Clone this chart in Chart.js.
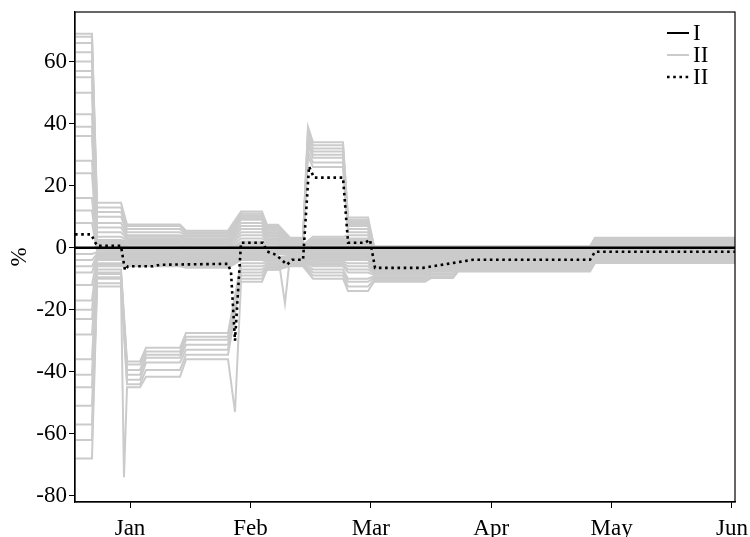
<!DOCTYPE html>
<html>
<head>
<meta charset="utf-8">
<script src="https://cdn.jsdelivr.net/npm/chart.js@4.4.1/dist/chart.umd.min.js"></script>
<style>
  html, body { margin: 0; padding: 0; background: #fff; }
</style>
</head>
<body>
<canvas id="chart" width="750" height="537"></canvas>
<script>
// x is measured in months: 1 = Jan ... 6 = Jun
const monthTicks = [1, 2, 3, 4, 5, 6];
const monthLabels = ['Jan', 'Feb', 'Mar', 'Apr', 'May', 'Jun'];
const yTicks = [-80, -60, -40, -20, 0, 20, 40, 60];

// flat stretches of the grey runs (start / end, in months)
const phaseStart = [0.543, 0.726, 0.975, 1.133, 1.465, 1.922, 2.138, 2.329, 2.520, 2.811, 3.027, 3.500, 3.724, 4.862];
const phaseEnd   = [0.684, 0.925, 1.083, 1.415, 1.814, 2.096, 2.229, 2.437, 2.769, 2.977, 3.450, 3.683, 4.821, 6.025];

// level of every grey run (32 runs) in each stretch
const phaseA  = [69, 68, 66, 63, 60, 57, 55, 50, 43, 39, 36, 28, 24, 16, 12, 8, -2, -4, -6, -8, -12, -17, -20, -23, -28, -36, -41, -45, -51, -57, -62, -68];
const phaseB  = [14.5, 13, 11.5, 10, 8, 6.5, 5, 3.5, 2.5, 2, 1.5, 1, 0.5, 0, -0.5, -1, -1.5, -2, -2.5, -3, -3.5, -4, -5, -5.5, -6, -7, -8, -8.5, -9.5, -10, -11.5, -12.5];
const phaseC1 = [7.5, 7, 6, 5, 4, 3.5, 3, 2.5, 2, 1.5, 1, 0.5, 0, -0.5, -1, -1.5, -2, -2.5, -3, -3.5, -4, -4.5, -5, -5.5, -6, -36.7, -37.7, -39.4, -41, -42.6, -44, -45];
const phaseC2 = [7.5, 7, 6, 5, 4, 3.5, 3, 2.5, 2, 1.5, 1, 0.5, 0, -0.5, -1, -1.5, -2, -2.5, -3, -3.5, -4, -4.5, -5, -5.5, -6, -32.3, -33.5, -34.5, -35.5, -37, -39.4, -41.6];
const phaseC3 = [5.5, 5, 4.5, 4, 3.5, 3, 2.5, 2, 1.5, 1, 0.5, 0, -0.5, -1, -1.5, -2, -2.5, -3, -3.5, -4, -4.5, -5, -5.5, -6, -6.5, -27.5, -28.7, -29.7, -31.3, -32.9, -34.5, -36];
const phaseD  = [11.7, 11, 10.5, 10, 9.5, 9, 8, 7, 6, 5, 4, 3, 2, 1.5, 1, 0.5, 0, -0.5, -1, -1.5, -2, -2.5, -3, -3.5, -4, -5, -6, -7, -8, -9, -10, -11];
const phaseE1 = [7.4, 7, 6.5, 6, 5.5, 5, 4.5, 4, 3.5, 3, 2.5, 2, 1.5, 1, 0.5, 0, -0.5, -1, -1.5, -2, -2.5, -3, -3.5, -4, -4.5, -5, -5.5, -6, -6.5, -7, -7, -7];
const phaseE2 = [3.2, 3, 2.7, 2.4, 2.1, 1.8, 1.5, 1.2, 0.9, 0.6, 0.3, 0, -0.3, -0.6, -0.9, -1.2, -1.5, -1.8, -2.1, -2.4, -2.7, -3, -3.3, -3.6, -3.9, -4.2, -4.5, -4.8, -5.1, -5.4, -5.7, -6];
const phaseF  = [34, 33, 32, 31, 30, 29, 27.5, 26, 3.5, 3, 2.5, 2, 1.5, 1, 0.5, 0, -0.5, -1, -1.5, -2, -2.5, -3, -3.5, -4, -4.5, -5, -5.5, -6, -7, -8, -9, -10];
const phaseG  = [9.7, 9, 8.5, 8, 7.5, 7, 6, 5, 4, 3, 2.5, 2, 1.5, 1, 0.5, 0, -0.5, -1, -1.5, -2, -2.5, -3, -3.5, -4, -5, -6, -7, -8, -10, -11, -12.5, -14];
const phaseH1 = [0.5, 0.2, 0, -0.3, -0.6, -1, -1.3, -1.6, -2, -2.3, -2.6, -3, -3.3, -3.6, -4, -4.3, -4.6, -5, -5.3, -5.6, -6, -6.3, -6.6, -7, -7.4, -7.8, -8.2, -8.7, -9.2, -9.8, -10.4, -11];
const phaseH2 = [0.5, 0.2, 0, -0.3, -0.5, -0.9, -1.2, -1.4, -1.8, -2, -2.3, -2.7, -2.9, -3.2, -3.6, -3.8, -4.1, -4.5, -4.7, -5, -5.3, -5.6, -5.9, -6.2, -6.6, -6.9, -7.3, -7.7, -8.2, -8.7, -9.3, -9.8];
const phaseH3 = [0.5, 0.2, 0, -0.2, -0.4, -0.7, -0.9, -1.1, -1.4, -1.6, -1.8, -2.1, -2.3, -2.5, -2.8, -3, -3.2, -3.5, -3.7, -3.9, -4.2, -4.4, -4.6, -4.9, -5.2, -5.5, -5.8, -6.1, -6.5, -6.9, -7.3, -7.7];
const phaseI  = [3.2, 3, 2.7, 2.4, 2.1, 1.8, 1.5, 1.2, 0.9, 0.6, 0.3, 0, -0.3, -0.6, -0.9, -1.2, -1.5, -1.8, -2.1, -2.4, -2.7, -3, -3.2, -3.4, -3.6, -3.8, -4, -4.2, -4.4, -4.6, -4.8, -4.9];

// short spikes of single runs
const spikeRun = [31, 31, 20];
const spikeX = [0.950, 1.872, 2.287];
const spikeY = [-74, -53, -18];
// peak just before the late-Feb plateau (first runs only)
const peakX = 2.478;
const peakF = [39, 37.5, 36, 35, 34, 33, 31, 29.5];

// series I
const lineIX = [0.543, 6.025];
const lineIY = [0, 0];

// dotted series II
const dotX = [0.543, 0.676, 0.726, 0.925, 0.958, 0.983, 1.191, 1.249, 1.814, 1.839, 1.872, 1.922, 2.105, 2.138, 2.213, 2.304, 2.346, 2.437, 2.487, 2.528, 2.769, 2.811, 2.952, 2.993, 3.035, 3.434, 3.849, 4.821, 4.862, 6.025];
const dotY = [4.3, 4.3, 0.6, 0.6, -7.3, -6, -6, -5.5, -5.2, -8, -30, 1.6, 1.6, -1.2, -2.3, -5.5, -3.9, -3.9, 26.2, 22.6, 22.6, 1.6, 1.6, 2.6, -6.5, -6.5, -3.9, -3.9, -1.3, -1.3];

const legendNames = ['I', 'II', 'II'];

const greyPhases = [phaseA, phaseB, phaseC1, phaseC2, phaseC3, phaseD, phaseE1, phaseE2, phaseF, phaseG, phaseH1, phaseH2, phaseH3, phaseI];

const greyRuns = phaseA.map((_, i) => {
    const pts = [];
    greyPhases.forEach((lv, p) => {
        pts.push({x: phaseStart[p], y: lv[i]}, {x: phaseEnd[p], y: lv[i]});
    });
    spikeRun.forEach((r, k) => {
        if (r === i) pts.push({x: spikeX[k], y: spikeY[k]});
    });
    if (i < peakF.length) pts.push({x: peakX, y: peakF[i]});
    pts.sort((a, b) => a.x - b.x);
    return pts;
});

const greyColor = '#cbcbcb';

const datasets = [
    {
        label: 'II',
        data: dotX.map((x, i) => ({x: x, y: dotY[i]})),
        borderColor: '#000',
        borderWidth: 2.6,
        borderDash: [2.6, 3.6]
    },
    {
        label: 'I',
        data: lineIX.map((x, i) => ({x: x, y: lineIY[i]})),
        borderColor: '#000',
        borderWidth: 2.5
    }
].concat(greyRuns.map(run => ({
    label: 'II',
    data: run,
    borderColor: greyColor,
    borderWidth: 2
})));

// legend drawn in the upper right corner of the plot, plus the frame
const cornerLegend = {
    id: 'cornerLegend',
    afterDraw(chart) {
        const {ctx, chartArea} = chart;
        const legendSets = [1, 2, 0];
        ctx.save();
        ctx.font = '23px "Liberation Serif"';
        ctx.textBaseline = 'middle';
        legendNames.forEach((name, i) => {
            const ds = chart.data.datasets[legendSets[i]];
            const y = chartArea.top + 21 + i * 22;
            ctx.beginPath();
            ctx.strokeStyle = ds.borderColor;
            ctx.lineWidth = i === 2 ? 2.6 : 2;
            ctx.setLineDash(ds.borderDash || []);
            ctx.moveTo(chartArea.right - 68, y);
            ctx.lineTo(chartArea.right - 46, y);
            ctx.stroke();
            ctx.setLineDash([]);
            ctx.fillStyle = '#000';
            ctx.fillText(name, chartArea.right - 42, y + 1);
        });
        ctx.lineWidth = 1.2;
        ctx.strokeStyle = '#000';
        ctx.strokeRect(chartArea.left, chartArea.top, chartArea.right - chartArea.left, chartArea.bottom - chartArea.top);
        ctx.restore();
    }
};

Chart.defaults.font.family = '"Liberation Serif", serif';
Chart.defaults.font.size = 23;
Chart.defaults.color = '#000';

new Chart(document.getElementById('chart'), {
    type: 'line',
    data: { datasets: datasets },
    options: {
        responsive: false,
        animation: false,
        devicePixelRatio: 1,
        layout: { padding: { top: 12, right: 15, left: 0, bottom: 0 } },
        elements: {
            point: { radius: 0, hoverRadius: 0 },
            line: { tension: 0, fill: false }
        },
        plugins: {
            legend: { display: false },
            tooltip: { enabled: false }
        },
        scales: {
            x: {
                type: 'linear',
                min: 0.543,
                max: 6.025,
                afterFit: s => {
                    s.height = 35;
                    s.paddingLeft = 0;
                    s.paddingRight = 0;
                },
                afterBuildTicks: s => { s.ticks = monthTicks.map(v => ({value: v})); },
                ticks: {
                    padding: 7,
                    maxRotation: 0,
                    autoSkip: false,
                    callback: v => monthLabels[monthTicks.indexOf(v)]
                },
                grid: { drawOnChartArea: false, drawTicks: true, tickLength: 6, color: '#000' },
                border: { display: true, color: '#000', width: 1.2 }
            },
            y: {
                min: -82,
                max: 76,
                afterFit: s => {
                    s.width = 75;
                    s.paddingTop = 0;
                    s.paddingBottom = 0;
                },
                afterBuildTicks: s => { s.ticks = yTicks.map(v => ({value: v})); },
                ticks: { padding: 2, autoSkip: false },
                title: { display: true, text: '%', padding: { top: 6, bottom: 0 } },
                grid: { drawOnChartArea: false, drawTicks: true, tickLength: 6, color: '#000' },
                border: { display: true, color: '#000', width: 1.2 }
            }
        }
    },
    plugins: [cornerLegend]
});
</script>
</body>
</html>
